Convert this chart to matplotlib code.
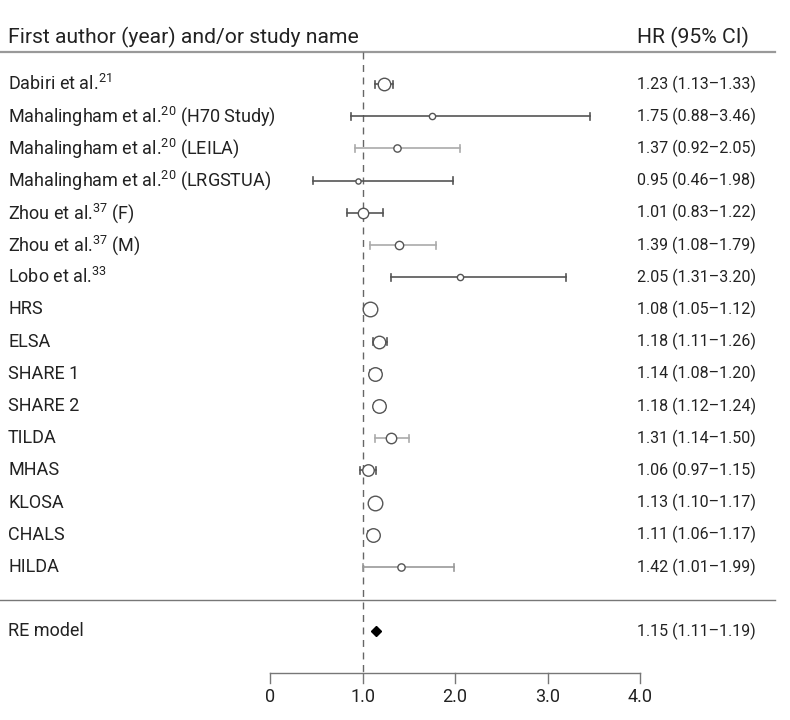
import matplotlib
matplotlib.use("Agg")
import matplotlib.pyplot as plt

plt.rcParams['font.family'] = ['Roboto', 'DejaVu Sans']
plt.rcParams['mathtext.fontset'] = 'custom'
plt.rcParams['mathtext.rm'] = 'Roboto'

# study data
studies = ["Dabiri et al.$^{21}$", "Mahalingham et al.$^{20}$ (H70 Study)",
           "Mahalingham et al.$^{20}$ (LEILA)", "Mahalingham et al.$^{20}$ (LRGSTUA)",
           "Zhou et al.$^{37}$ (F)", "Zhou et al.$^{37}$ (M)", "Lobo et al.$^{33}$",
           "HRS", "ELSA", "SHARE 1", "SHARE 2", "TILDA", "MHAS", "KLOSA", "CHALS", "HILDA"]
hr = [1.23, 1.75, 1.37, 0.95, 1.01, 1.39, 2.05, 1.08, 1.18, 1.14, 1.18, 1.31, 1.06, 1.13, 1.11, 1.42]
lo = [1.13, 0.88, 0.92, 0.46, 0.83, 1.08, 1.31, 1.05, 1.11, 1.08, 1.12, 1.14, 0.97, 1.10, 1.06, 1.01]
hi = [1.33, 3.46, 2.05, 1.98, 1.22, 1.79, 3.20, 1.12, 1.26, 1.20, 1.24, 1.50, 1.15, 1.17, 1.17, 1.99]
weight = [6, 3, 3.5, 2.5, 5, 4, 3, 7, 6, 6.5, 6.5, 5, 5.5, 7, 6.5, 3.5]
bar_shade = ['#555555', '#555555', '#aaaaaa', '#555555', '#555555', '#aaaaaa', '#555555', '#555555',
             '#555555', '#555555', '#555555', '#aaaaaa', '#555555', '#555555', '#555555', '#999999']
re_label = "RE model"
re_hr, re_lo, re_hi = 1.15, 1.11, 1.19
xticks = [0, 1, 2, 3, 4]
xtick_labels = ["0", "1.0", "2.0", "3.0", "4.0"]

fig = plt.figure(figsize=(7.9, 7.2), dpi=100)
ax = fig.add_axes([0, 0, 1, 1])
# map data x: 0 -> 270px, 4 -> 640px
ppu = 370 / 4
ax.set_xlim(-270 / ppu, (790 - 270) / ppu)
ax.set_ylim(720, 0)
ax.axis('off')

row0, step = 84, 32.2
ys = [row0 + i * step for i in range(len(studies))]
y_re = row0 + (len(studies) + 1) * step
fs_lab = 13
fs_num = 11.5
fs_head = 15.2
txt = '#222222'

left_x = -262 / ppu
right_x = (637 - 270) / ppu

ax.text(left_x, 37, "First author (year) and/or study name", fontsize=fs_head, va='center', color=txt)
ax.text(right_x, 37, "HR (95% CI)", fontsize=fs_head, va='center', color=txt)
ax.plot([-270 / ppu, (775 - 270) / ppu], [52, 52], color='#999999', lw=1.6)
ax.plot([-270 / ppu, (775 - 270) / ppu], [600, 600], color='#777777', lw=1.0)

# reference line
ax.plot([1, 1], [52, 673], color='#666666', lw=1, ls=(0, (5, 4)))

for i, name in enumerate(studies):
    y = ys[i]
    ax.text(left_x, y, name, fontsize=fs_lab, va='center', color=txt)
    ax.text(right_x, y, f"{hr[i]:.2f} ({lo[i]:.2f}–{hi[i]:.2f})", fontsize=fs_num, va='center', color=txt)
    ax.plot([lo[i], hi[i]], [y, y], color=bar_shade[i], lw=1.2)
    for e in (lo[i], hi[i]):
        ax.plot([e, e], [y - 3.5, y + 3.5], color=bar_shade[i], lw=1.2)
    ax.plot(hr[i], y, 'o', ms=weight[i] * 1.5, mfc='white', mec='#555555', mew=1.0)

ax.text(left_x, y_re, re_label, fontsize=fs_lab, va='center', color=txt)
ax.text(right_x, y_re, f"{re_hr:.2f} ({re_lo:.2f}–{re_hi:.2f})", fontsize=fs_num, va='center', color=txt)
ax.plot(re_hr, y_re, 'D', ms=5, color='black')

# x axis
ax.plot([xticks[0], xticks[-1]], [673, 673], color='#777777', lw=1.0)
for t, lab in zip(xticks, xtick_labels):
    ax.plot([t, t], [673, 683], color='#777777', lw=1.0)
    ax.text(t, 697, lab, fontsize=fs_lab, ha='center', va='center', color=txt)

fig.savefig("out.png", dpi=100)
